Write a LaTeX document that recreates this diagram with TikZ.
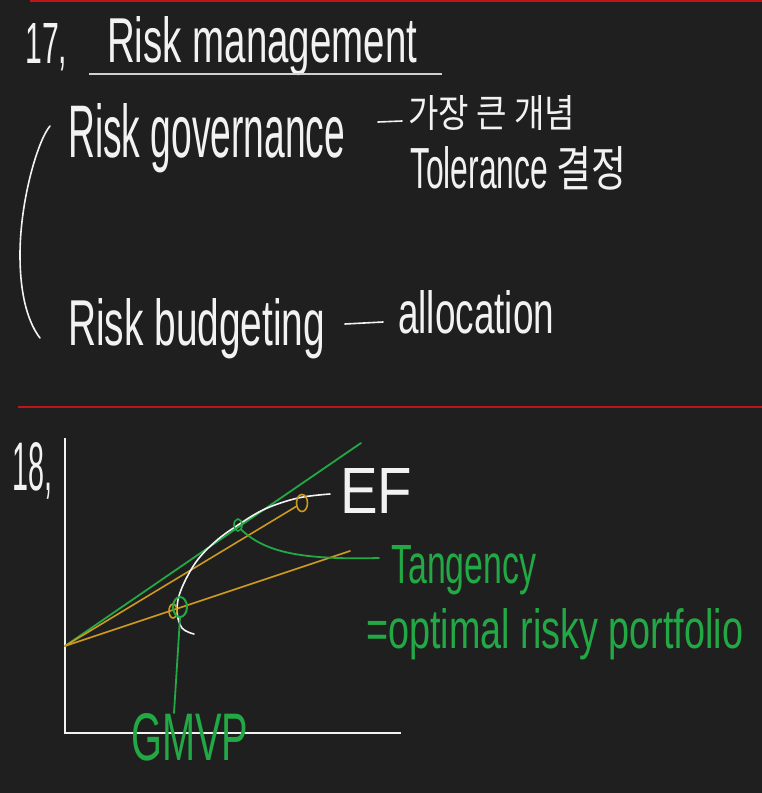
\documentclass[tikz,border=0pt]{standalone}
\usepackage{fontspec}
\setmainfont{Liberation Sans}
\newfontfamily\kr{Noto Sans CJK KR}
\usetikzlibrary{shapes.geometric}
\definecolor{bgc}{HTML}{1F1F1F}
\definecolor{inkw}{HTML}{F2F2F2}
\definecolor{redl}{HTML}{C0141C}
\definecolor{grn}{HTML}{22A845}
\definecolor{org}{HTML}{CC9A1E}
\definecolor{ulc}{HTML}{D0D0D0}
\begin{document}
\begin{tikzpicture}[x=1pt,y=-1pt,
  hw/.style={anchor=base west,inner sep=0pt,text=inkw},
  hg/.style={anchor=base west,inner sep=0pt,text=grn},
  wline/.style={draw=inkw,line width=1.6pt,line cap=round},
  gline/.style={draw=grn,line width=1.8pt,line cap=round},
  oline/.style={draw=org,line width=1.6pt,line cap=round},
  ring/.style={ellipse,inner sep=0pt,line width=1.6pt}]
\fill[bgc] (0,0) rectangle (762,793);
\useasboundingbox (0,0) rectangle (762,793);
% red separators
\draw[redl,line width=2pt] (30,1) -- (762,1);
\draw[redl,line width=1.6pt] (18,407) -- (762,407);
% --- section 17
\node[hw] (t17) at (25,63) {\resizebox{42pt}{40pt}{17,}};
\node[hw] (title) at (107,62) {\resizebox{310pt}{46pt}{Risk management}};
\draw[ulc,line width=2pt] (89,74) -- (442,74);
\node[hw] (gov) at (68,157) {\resizebox{277pt}{54pt}{Risk governance}};
\coordinate (d1a) at (378,122);
\coordinate (d1b) at (402,121);
\draw[wline] (d1a) -- (d1b);
\node[hw] (kr1) at (408,127) {\resizebox{167pt}{32pt}{\kr 가장 큰 개념}};
\node[hw] (tol) at (410,188) {\resizebox{138pt}{42pt}{Tolerance}};
\node[hw] (kr2) at (556,186) {\resizebox{70pt}{40pt}{\kr 결정}};
\coordinate (bt) at (50,126);
\coordinate (bb) at (40,338);
\draw[wline] (bt) .. controls (38,140) and (20,200) .. (20,255) .. controls (20,300) and (30,325) .. (bb);
\node[hw] (bud) at (68,345) {\resizebox{257pt}{47pt}{Risk budgeting}};
\coordinate (d2a) at (345,324);
\coordinate (d2b) at (383,322);
\draw[wline] (d2a) -- (d2b);
\node[hw] (alloc) at (398,333) {\resizebox{156pt}{43pt}{allocation}};
% --- section 18
\node[hw] (t18) at (12,490) {\resizebox{40pt}{48pt}{18,}};
\coordinate (ytop) at (65,438);
\coordinate (orig) at (65,733);
\coordinate (xend) at (401,733);
\draw[inkw,line width=2pt] (ytop) -- (orig) -- (xend);
\coordinate (rf) at (65,646);
\coordinate (gend) at (361,443);
\coordinate (o1end) at (297,506);
\coordinate (o2end) at (350,551);
\draw[gline] (rf) -- (gend);
\draw[oline] (rf) -- (o1end);
\draw[oline] (rf) -- (o2end);
\draw[wline] plot[smooth,tension=0.6] coordinates {(194,634) (182,628) (177,611) (181,590) (196,562) (216,541) (238,525) (265,509) (298,498) (330,494)};
\node[hw] (ef) at (340,513) {\resizebox{72pt}{45pt}{EF}};
\node[ring,draw=org,minimum width=11pt,minimum height=17pt] (oc) at (302,503) {};
\node[ring,draw=grn,minimum width=8pt,minimum height=12pt] (tan) at (238,525) {};
\node[ring,draw=org,minimum width=8pt,minimum height=14pt] (og) at (173,611) {};
\node[ring,draw=grn,line width=2pt,minimum width=14pt,minimum height=20pt] (gm) at (180,607) {};
\coordinate (tend) at (379,558);
\draw[gline] (tan.south east) .. controls (265,552) and (300,560) .. (tend);
\node[hg] (tang) at (391,583) {\resizebox{145pt}{38pt}{Tangency}};
\node[hg] (opt) at (366,648) {\resizebox{377pt}{40pt}{=optimal risky portfolio}};
\coordinate (gmend) at (174,713);
\draw[gline] (gm.south) -- (gmend);
\node[hg] (gmvp) at (131,760) {\resizebox{117pt}{47pt}{GMVP}};
\end{tikzpicture}
\end{document}
